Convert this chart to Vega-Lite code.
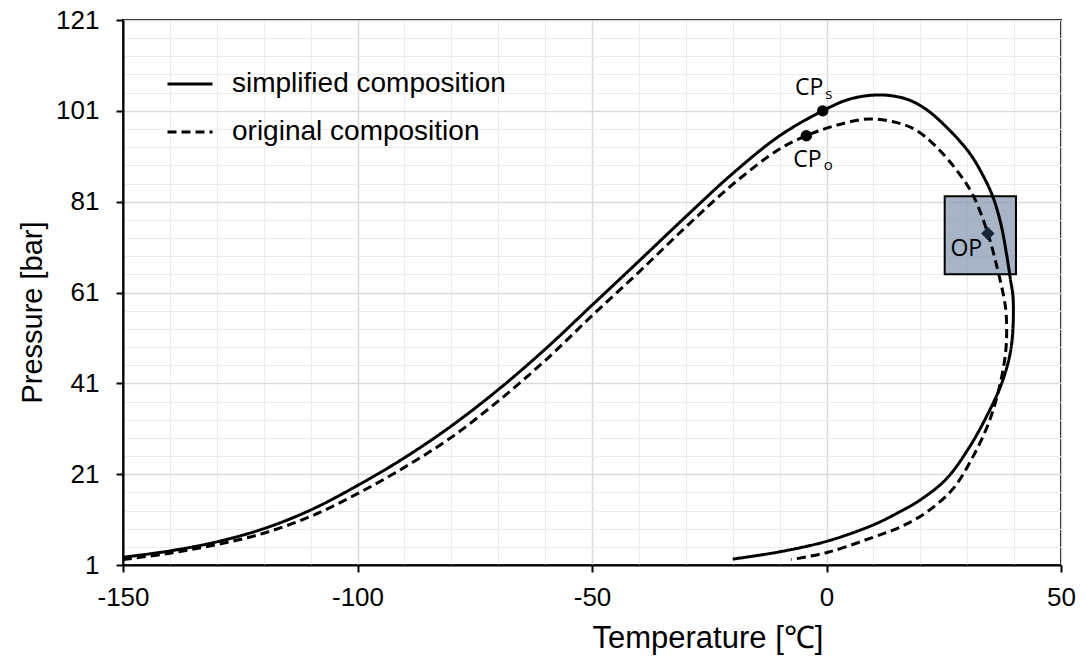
{
  "$schema": "https://vega.github.io/schema/vega-lite/v6.json",
  "width": 938,
  "height": 545,
  "autosize": "none",
  "padding": {"left": 123, "top": 20, "right": 24, "bottom": 99},
  "background": "white",
  "config": {
    "view": {"stroke": "black", "strokeWidth": 2},
    "font": "Liberation Sans",
    "axis": {"labelOverlap": false}
  },
  "datasets": {
    "curves": [
      {"series": "simplified composition", "i": 1, "T": -150, "P": 2.7},
      {"series": "simplified composition", "i": 2, "T": -140, "P": 4.1},
      {"series": "simplified composition", "i": 3, "T": -130, "P": 6.1},
      {"series": "simplified composition", "i": 4, "T": -120, "P": 9.0},
      {"series": "simplified composition", "i": 5, "T": -110, "P": 13.1},
      {"series": "simplified composition", "i": 6, "T": -100, "P": 18.5},
      {"series": "simplified composition", "i": 7, "T": -90, "P": 24.6},
      {"series": "simplified composition", "i": 8, "T": -80, "P": 31.6},
      {"series": "simplified composition", "i": 9, "T": -70, "P": 39.6},
      {"series": "simplified composition", "i": 10, "T": -60, "P": 48.5},
      {"series": "simplified composition", "i": 11, "T": -50, "P": 58.2},
      {"series": "simplified composition", "i": 12, "T": -40, "P": 67.9},
      {"series": "simplified composition", "i": 13, "T": -30, "P": 77.7},
      {"series": "simplified composition", "i": 14, "T": -20, "P": 87.2},
      {"series": "simplified composition", "i": 15, "T": -10, "P": 95.5},
      {"series": "simplified composition", "i": 16, "T": -0.8, "P": 101.0},
      {"series": "simplified composition", "i": 17, "T": 5, "P": 103.6},
      {"series": "simplified composition", "i": 18, "T": 11.5, "P": 104.5},
      {"series": "simplified composition", "i": 19, "T": 17, "P": 103.6},
      {"series": "simplified composition", "i": 20, "T": 21, "P": 101.5},
      {"series": "simplified composition", "i": 21, "T": 25.5, "P": 97.5},
      {"series": "simplified composition", "i": 22, "T": 30.5, "P": 91.7},
      {"series": "simplified composition", "i": 23, "T": 33.5, "P": 86.5},
      {"series": "simplified composition", "i": 24, "T": 35.5, "P": 82.0},
      {"series": "simplified composition", "i": 25, "T": 37.2, "P": 76.0},
      {"series": "simplified composition", "i": 26, "T": 38.3, "P": 70.0},
      {"series": "simplified composition", "i": 27, "T": 39.2, "P": 64.0},
      {"series": "simplified composition", "i": 28, "T": 39.8, "P": 59.5},
      {"series": "simplified composition", "i": 29, "T": 39.4, "P": 49.1},
      {"series": "simplified composition", "i": 30, "T": 37.6, "P": 41.7},
      {"series": "simplified composition", "i": 31, "T": 34.8, "P": 35.1},
      {"series": "simplified composition", "i": 32, "T": 30.5, "P": 27.0},
      {"series": "simplified composition", "i": 33, "T": 25.5, "P": 19.9},
      {"series": "simplified composition", "i": 34, "T": 19.8, "P": 15.2},
      {"series": "simplified composition", "i": 35, "T": 15.6, "P": 12.7},
      {"series": "simplified composition", "i": 36, "T": 9.9, "P": 9.8},
      {"series": "simplified composition", "i": 37, "T": 0.3, "P": 6.3},
      {"series": "simplified composition", "i": 38, "T": -10, "P": 3.9},
      {"series": "simplified composition", "i": 39, "T": -20, "P": 2.3},
      {"series": "original composition", "i": 1, "T": -150, "P": 2.2},
      {"series": "original composition", "i": 2, "T": -140, "P": 3.6},
      {"series": "original composition", "i": 3, "T": -130, "P": 5.5},
      {"series": "original composition", "i": 4, "T": -120, "P": 8.0},
      {"series": "original composition", "i": 5, "T": -110, "P": 11.7},
      {"series": "original composition", "i": 6, "T": -100, "P": 16.7},
      {"series": "original composition", "i": 7, "T": -90, "P": 22.5},
      {"series": "original composition", "i": 8, "T": -80, "P": 29.1},
      {"series": "original composition", "i": 9, "T": -70, "P": 37.1},
      {"series": "original composition", "i": 10, "T": -60, "P": 46.0},
      {"series": "original composition", "i": 11, "T": -50, "P": 55.9},
      {"series": "original composition", "i": 12, "T": -40, "P": 65.5},
      {"series": "original composition", "i": 13, "T": -30, "P": 75.4},
      {"series": "original composition", "i": 14, "T": -20, "P": 84.8},
      {"series": "original composition", "i": 15, "T": -10, "P": 92.6},
      {"series": "original composition", "i": 16, "T": -4.3, "P": 95.5},
      {"series": "original composition", "i": 17, "T": 2, "P": 97.8},
      {"series": "original composition", "i": 18, "T": 9, "P": 99.2},
      {"series": "original composition", "i": 19, "T": 15, "P": 98.4},
      {"series": "original composition", "i": 20, "T": 19, "P": 96.8},
      {"series": "original composition", "i": 21, "T": 22.7, "P": 93.8},
      {"series": "original composition", "i": 22, "T": 27.7, "P": 88.0},
      {"series": "original composition", "i": 23, "T": 31.2, "P": 82.5},
      {"series": "original composition", "i": 24, "T": 34.4, "P": 74.0},
      {"series": "original composition", "i": 25, "T": 36.5, "P": 66.0},
      {"series": "original composition", "i": 26, "T": 37.8, "P": 60.0},
      {"series": "original composition", "i": 27, "T": 38.3, "P": 56.4},
      {"series": "original composition", "i": 28, "T": 38.3, "P": 49.1},
      {"series": "original composition", "i": 29, "T": 37.2, "P": 41.7},
      {"series": "original composition", "i": 30, "T": 34.8, "P": 32.9},
      {"series": "original composition", "i": 31, "T": 31.2, "P": 24.8},
      {"series": "original composition", "i": 32, "T": 26.9, "P": 17.7},
      {"series": "original composition", "i": 33, "T": 21.3, "P": 12.6},
      {"series": "original composition", "i": 34, "T": 15.6, "P": 9.3},
      {"series": "original composition", "i": 35, "T": 9.9, "P": 7.1},
      {"series": "original composition", "i": 36, "T": 0.3, "P": 3.8},
      {"series": "original composition", "i": 37, "T": -7.5, "P": 2.2}
    ],
    "box": [{"T1": 25.2, "T2": 40.4, "P1": 65.0, "P2": 82.2}],
    "crit": [
      {"name": "CPs", "T": -0.8, "P": 101.0},
      {"name": "CPo", "T": -4.3, "P": 95.5}
    ],
    "op": [{"name": "OP", "T": 34.4, "P": 74.0}],
    "labels": [
      {"t": "CP", "T": -3.7, "P": 106.0},
      {"t": "CP", "T": -4.05, "P": 90.1},
      {"t": "OP", "T": 29.8, "P": 70.5}
    ],
    "subs": [
      {"t": "s", "T": 0.5, "P": 104.8},
      {"t": "o", "T": 0.4, "P": 89.0}
    ]
  },
  "layer": [
    {
      "data": {"name": "box"},
      "mark": {"type": "rect", "fill": "#8497b0", "fillOpacity": 0.72, "stroke": "black", "strokeWidth": 2},
      "encoding": {
        "x": {
          "field": "T1", "type": "quantitative", "title": "Temperature [℃]",
          "scale": {"domain": [-150, 50], "nice": false, "zero": false},
          "axis": {
            "values": [-150, -140, -130, -120, -110, -100, -90, -80, -70, -60, -50, -40, -30, -20, -10, 0, 10, 20, 30, 40, 50],
            "tickCount": 500,
            "title": "Temperature [℃]",
            "titleFont": "Liberation Sans", "titleFontSize": 31, "titleFontWeight": "normal", "titleColor": "black", "titlePadding": 13,
            "titleAnchor": "start", "titleAlign": "left", "titleX": 469,
            "labelFont": "Liberation Sans", "labelColor": "black", "labelPadding": 12,
            "labelFontSize": {"condition": {"test": "datum.value % 50 === 0", "value": 26}, "value": 1},
            "labelFlush": false, "labelOverlap": false,
            "labelExpr": "datum.value % 50 === 0 ? '' + datum.value : ''",
            "domainColor": "black", "domainWidth": 2,
            "tickColor": "black", "tickWidth": 2, "tickSize": 7,
            "tickOpacity": {"condition": {"test": "datum.value % 50 === 0", "value": 1}, "value": 0},
            "grid": true,
            "gridColor": {"condition": {"test": "datum.value % 50 === 0", "value": "#d9d9d9"}, "value": "#ececec"},
            "gridWidth": {"condition": {"test": "datum.value % 50 === 0", "value": 1.5}, "value": 1}
          }
        },
        "x2": {"field": "T2"},
        "y": {
          "field": "P1", "type": "quantitative", "title": "Pressure [bar]",
          "scale": {"domain": [1, 121], "nice": false, "zero": false},
          "axis": {
            "values": [1, 5, 9, 13, 17, 21, 25, 29, 33, 37, 41, 45, 49, 53, 57, 61, 65, 69, 73, 77, 81, 85, 89, 93, 97, 101, 105, 109, 113, 117, 121],
            "tickCount": 500,
            "title": "Pressure [bar]",
            "titleFont": "Liberation Sans", "titleFontSize": 29, "titleFontWeight": "normal", "titleColor": "black", "titlePadding": 8,
            "titleY": 292,
            "labelFont": "Liberation Sans", "labelColor": "black", "labelPadding": 17,
            "labelFontSize": {"condition": {"test": "(datum.value - 1) % 20 === 0", "value": 26}, "value": 1},
            "labelFlush": false, "labelOverlap": false,
            "labelExpr": "(datum.value - 1) % 20 === 0 ? '' + datum.value : ''",
            "domainColor": "black", "domainWidth": 2,
            "tickColor": "black", "tickWidth": 2, "tickSize": 7,
            "tickOpacity": {"condition": {"test": "(datum.value - 1) % 20 === 0", "value": 1}, "value": 0},
            "grid": true,
            "gridColor": {"condition": {"test": "(datum.value - 1) % 20 === 0", "value": "#d9d9d9"}, "value": "#ececec"},
            "gridWidth": {"condition": {"test": "(datum.value - 1) % 20 === 0", "value": 1.5}, "value": 1}
          }
        },
        "y2": {"field": "P2"}
      }
    },
    {
      "data": {"name": "curves"},
      "mark": {"type": "line", "color": "black", "strokeWidth": 3, "interpolate": "catmull-rom"},
      "encoding": {
        "x": {"field": "T", "type": "quantitative", "title": "Temperature [℃]"},
        "y": {"field": "P", "type": "quantitative", "title": "Pressure [bar]"},
        "order": {"field": "i", "type": "quantitative"},
        "strokeDash": {
          "field": "series", "type": "nominal",
          "scale": {"domain": ["simplified composition", "original composition"], "range": [[1, 0], [9, 5]]},
          "legend": {
            "title": null, "orient": "none", "legendX": 43, "legendY": 40,
            "symbolType": "stroke", "symbolSize": 2025, "symbolStrokeWidth": 3, "symbolStrokeColor": "black",
            "labelFont": "Liberation Sans", "labelFontSize": 28, "labelColor": "black", "labelOffset": 18, "labelLimit": 500,
            "rowPadding": 10, "padding": 0
          }
        }
      }
    },
    {
      "data": {"name": "crit"},
      "mark": {"type": "point", "shape": "circle", "filled": true, "color": "black", "size": 130, "opacity": 1},
      "encoding": {
        "x": {"field": "T", "type": "quantitative", "title": "Temperature [℃]"},
        "y": {"field": "P", "type": "quantitative", "title": "Pressure [bar]"}
      }
    },
    {
      "data": {"name": "op"},
      "mark": {"type": "point", "shape": "diamond", "filled": true, "color": "#172636", "size": 180, "opacity": 1},
      "encoding": {
        "x": {"field": "T", "type": "quantitative", "title": "Temperature [℃]"},
        "y": {"field": "P", "type": "quantitative", "title": "Pressure [bar]"}
      }
    },
    {
      "data": {"name": "labels"},
      "mark": {"type": "text", "font": "Open Sans", "fontSize": 23, "color": "black", "align": "center", "baseline": "middle"},
      "encoding": {
        "x": {"field": "T", "type": "quantitative", "title": "Temperature [℃]"},
        "y": {"field": "P", "type": "quantitative", "title": "Pressure [bar]"},
        "text": {"field": "t"}
      }
    },
    {
      "data": {"name": "subs"},
      "mark": {"type": "text", "font": "Open Sans", "fontSize": 15, "color": "black", "align": "center", "baseline": "middle"},
      "encoding": {
        "x": {"field": "T", "type": "quantitative", "title": "Temperature [℃]"},
        "y": {"field": "P", "type": "quantitative", "title": "Pressure [bar]"},
        "text": {"field": "t"}
      }
    }
  ]
}
